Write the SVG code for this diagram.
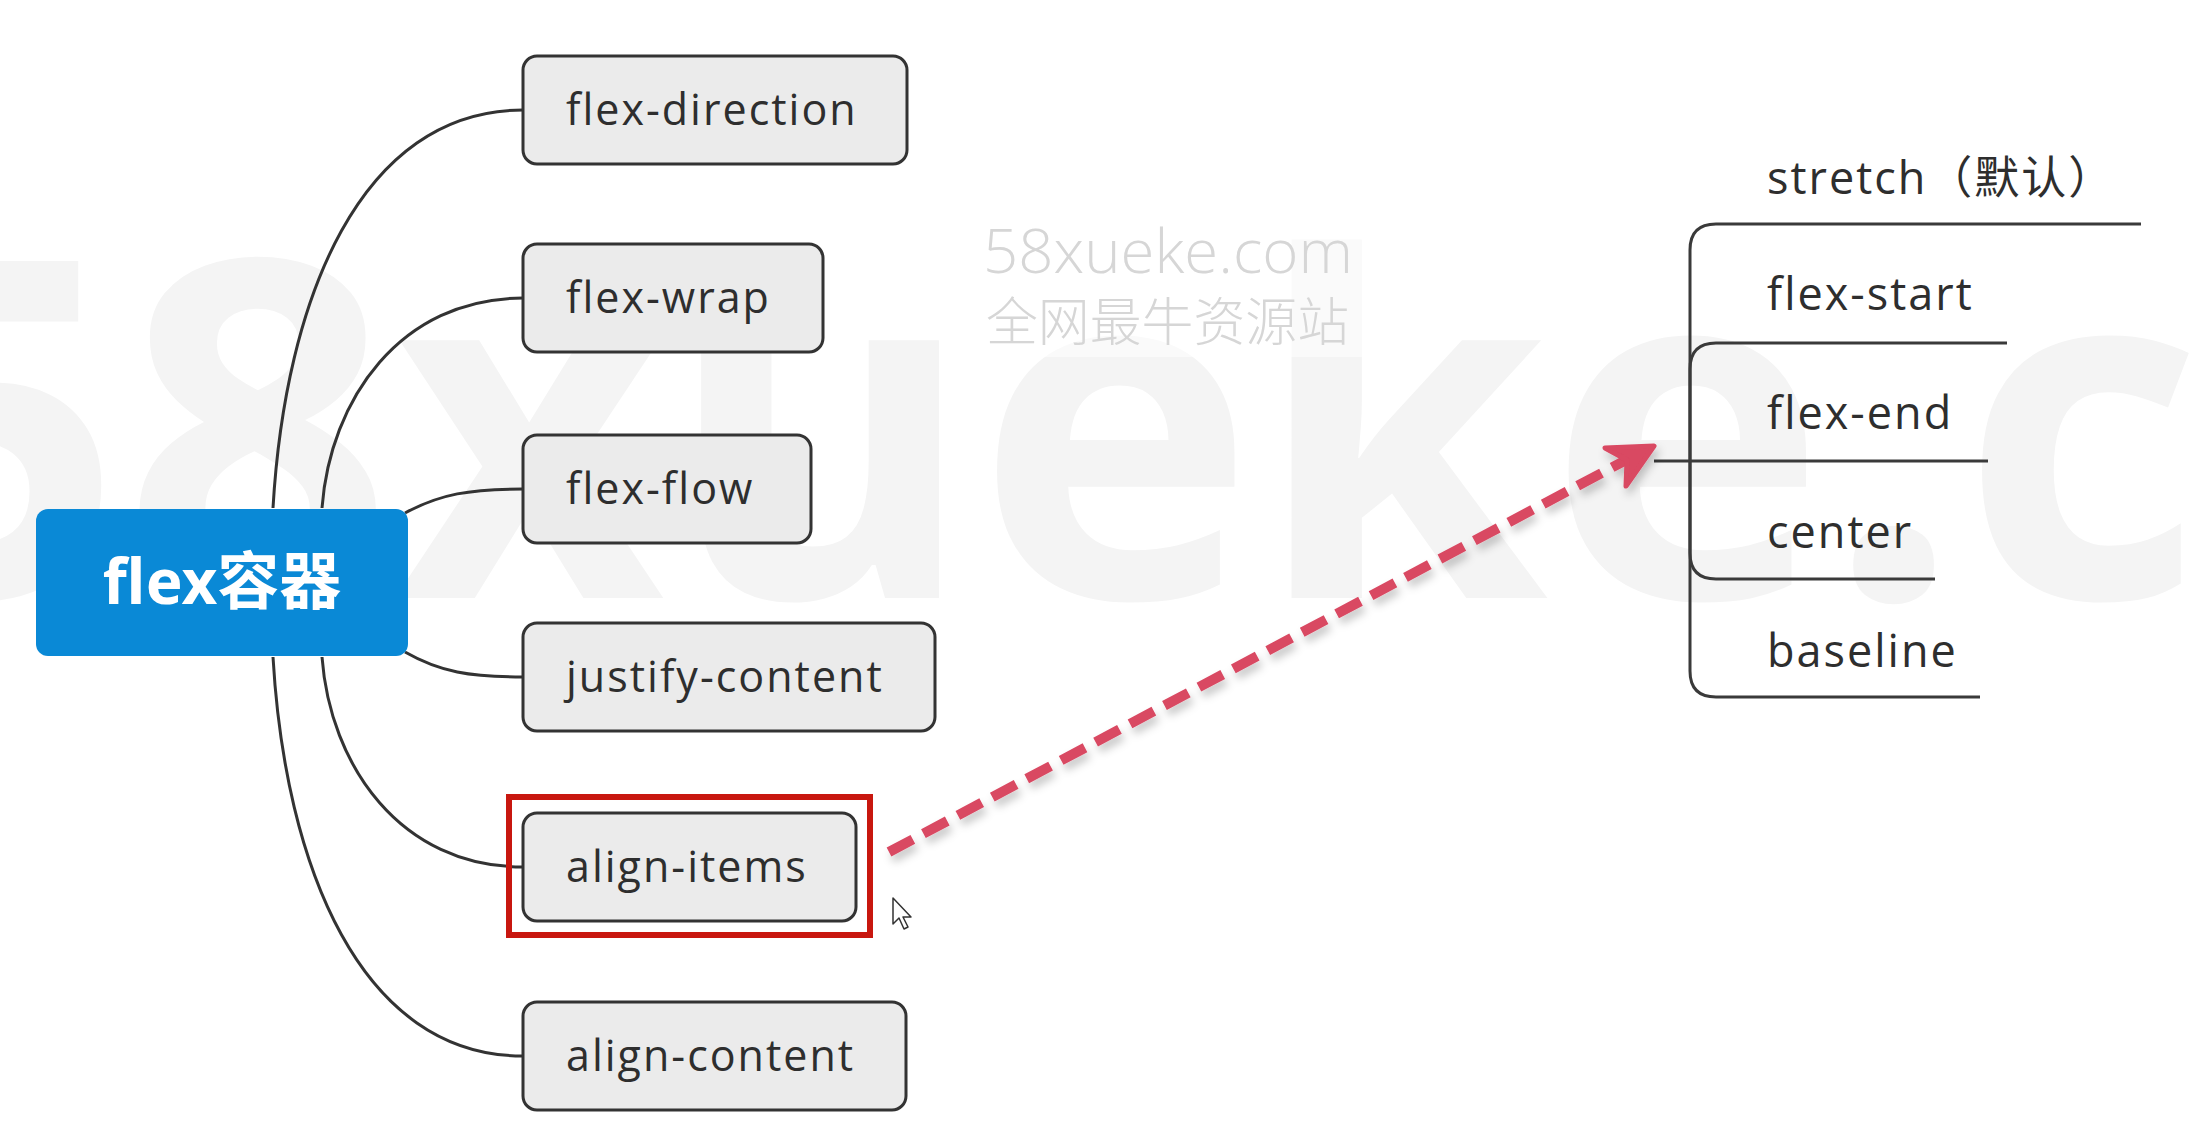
<svg xmlns="http://www.w3.org/2000/svg" width="2192" height="1124" viewBox="0 0 2192 1124">
  <defs>
    <style>
      .conn { fill: none; stroke: #333333; stroke-width: 3; }
      .box { fill: #EBEBEB; stroke: #333333; stroke-width: 3; }
      .lbl { font-family: "Open Sans", "Noto Sans", "Noto Sans CJK SC", sans-serif; font-size: 43px; font-weight: 400; fill: #2E2E2E; letter-spacing: 2px; }
      .rlbl { font-family: "Open Sans", "Noto Sans", "Noto Sans CJK SC", sans-serif; font-size: 45px; font-weight: 400; fill: #2E2E2E; letter-spacing: 2px; }
      .tree { fill: none; stroke: #3a3a3a; stroke-width: 3; }
      .wm { font-family: "Open Sans", "Noto Sans", "Noto Sans CJK SC", sans-serif; fill: #D6D6D6; font-weight: 300; }
    </style>
    <filter id="shadow" x="-10%" y="-10%" width="120%" height="130%">
      <feDropShadow dx="3" dy="6" stdDeviation="4" flood-color="#000000" flood-opacity="0.22"/>
    </filter>
  </defs>

  <rect x="0" y="0" width="2192" height="1124" fill="#FFFFFF"/>

  <!-- faint background watermark -->
  <text x="-147" y="598" font-family="'Open Sans', 'Noto Sans', sans-serif" font-weight="700" font-size="472" fill="#F4F4F4">58xueke.co</text>
  <rect x="972" y="215" width="392" height="142" fill="#FFFFFF" opacity="0.5"/>
  <text class="wm" x="983" y="273" font-size="60" textLength="370" lengthAdjust="spacingAndGlyphs">58xueke.com</text>
  <text class="wm" x="986" y="341" font-size="52" textLength="363" lengthAdjust="spacingAndGlyphs" font-family="'Noto Sans CJK SC', sans-serif">全网最牛资源站</text>

  <!-- connectors -->
  <g id="connectors">
    <path class="conn" d="M273,508 C285,300 360,110 523,110"/>
    <path class="conn" d="M322,508 C330,400 400,298 523,298"/>
    <path class="conn" d="M405,513 C440,494 470,489 523,489"/>
    <path class="conn" d="M405,652 C440,672 470,677 523,677"/>
    <path class="conn" d="M322,657 C330,765 400,867 523,867"/>
    <path class="conn" d="M273,657 C285,865 360,1056 523,1056"/>

    <!-- right tree -->
    <path class="tree" d="M1654,461 H1988"/>
    <path class="tree" d="M1690,461 V250 Q1690,224 1716,224 H2141"/>
    <path class="tree" d="M1690,461 V369 Q1690,343 1716,343 H2007"/>
    <path class="tree" d="M1690,461 V553 Q1690,579 1716,579 H1935"/>
    <path class="tree" d="M1690,461 V671 Q1690,697 1716,697 H1980"/>

    <!-- dashed highlight arrow -->
    <g filter="url(#shadow)">
      <path d="M889,852 L1628,459" fill="none" stroke="#D94862" stroke-width="10" stroke-dasharray="27 12"/>
      <polygon points="1654,446 1605,448 1627,460 1626,486" fill="#D94862" stroke="#D94862" stroke-width="5" stroke-linejoin="round"/>
    </g>
  </g>

  <!-- central node -->
  <g id="node-root">
    <rect x="36" y="509" width="372" height="147" rx="12" fill="#0A89D6"/>
    <text x="222" y="604" text-anchor="middle" font-family="'Noto Sans', 'Noto Sans CJK SC', sans-serif" font-weight="700" font-size="62" fill="#FFFFFF">flex容器</text>
  </g>

  <g id="node-flex-direction">
    <rect class="box" x="523" y="56" width="384" height="108" rx="14"/>
    <text class="lbl" x="566" y="125">flex-direction</text>
  </g>
  <g id="node-flex-wrap">
    <rect class="box" x="523" y="244" width="300" height="108" rx="14"/>
    <text class="lbl" x="566" y="313">flex-wrap</text>
  </g>
  <g id="node-flex-flow">
    <rect class="box" x="523" y="435" width="288" height="108" rx="14"/>
    <text class="lbl" x="566" y="504">flex-flow</text>
  </g>
  <g id="node-justify-content">
    <rect class="box" x="523" y="623" width="412" height="108" rx="14"/>
    <text class="lbl" x="566" y="692">justify-content</text>
  </g>
  <g id="node-align-items">
    <rect class="box" x="523" y="813" width="333" height="108" rx="14"/>
    <text class="lbl" x="566" y="882">align-items</text>
    <rect x="509" y="797" width="361" height="138" fill="none" stroke="#C8170F" stroke-width="6"/>
  </g>
  <g id="node-align-content">
    <rect class="box" x="523" y="1002" width="383" height="108" rx="14"/>
    <text class="lbl" x="566" y="1071">align-content</text>
  </g>

  <g id="node-stretch"><text class="rlbl" x="1767" y="194">stretch（默认）</text></g>
  <g id="node-flex-start"><text class="rlbl" x="1767" y="310">flex-start</text></g>
  <g id="node-flex-end"><text class="rlbl" x="1767" y="429">flex-end</text></g>
  <g id="node-center"><text class="rlbl" x="1767" y="548">center</text></g>
  <g id="node-baseline"><text class="rlbl" x="1767" y="667">baseline</text></g>

  <!-- mouse cursor -->
  <polygon points="893,898 893,924 899,918 904,929 908,927 903,917 911,917" fill="#FFFFFF" stroke="#333333" stroke-width="1.5" stroke-linejoin="round"/>
</svg>
